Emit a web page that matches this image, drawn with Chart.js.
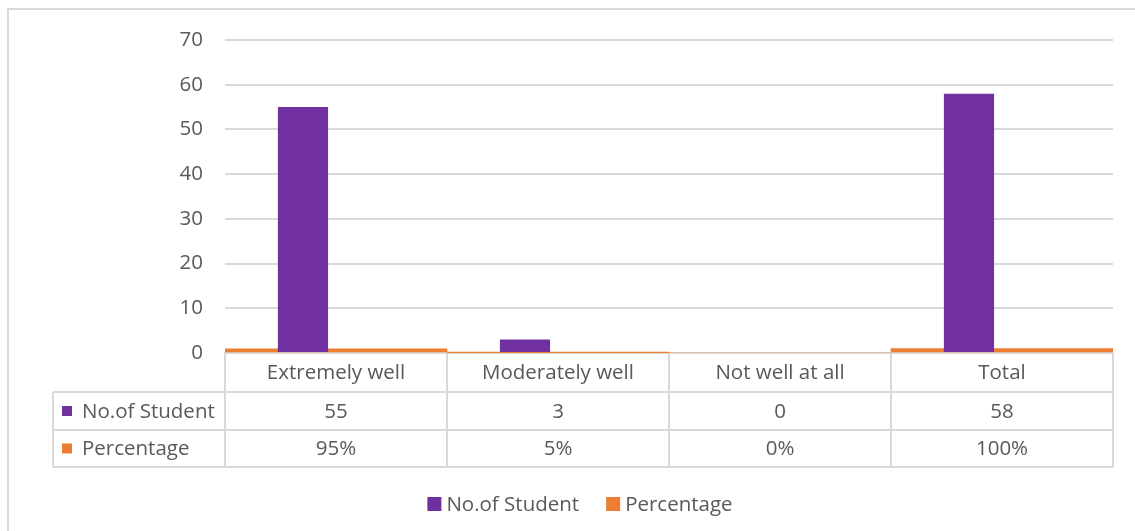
<!DOCTYPE html>
<html>
<head>
<meta charset="utf-8">
<script src="https://cdn.jsdelivr.net/npm/chart.js@4.4.0/dist/chart.umd.min.js"></script>
<style>
    html, body { margin: 0; padding: 0; background: #fff; }
    #wrap { position: relative; width: 1135px; height: 531px; overflow: hidden; }
    #frame { position: absolute; left: 7px; top: 8px; width: 1140px; height: 540px; border: 2px solid #d9d9d9; box-sizing: border-box; }
    canvas { position: absolute; left: 0; top: 0; }
</style>
</head>
<body>
<div id="wrap">
    <div id="frame"></div>
    <canvas id="report-bar-chart" width="1135" height="531"></canvas>
</div>
<script>
// Chart data
const categories = ['Extremely well', 'Moderately well', 'Not well at all', 'Total'];
const studentCounts = [55, 3, 0, 58];
const percentages = [0.95, 0.05, 0, 1];
const yTicks = [0, 10, 20, 30, 40, 50, 60, 70];

const purple = '#7030A0';
const orange = '#ED7D31';
const textColor = '#595959';
const lineColor = '#d9d9d9';
const fontFamily = '"Open Sans", sans-serif';
const fontSize = 20.5;

document.addEventListener('DOMContentLoaded', function() {
    initializeChart();
});

function formatPercent(v) {
    return Math.round(v * 100) + '%';
}

// Excel-style data table under the plot area, plus the legend below it
const dataTablePlugin = {
    id: 'dataTable',
    afterDraw(chart) {
        const ctx = chart.ctx;
        const x = chart.scales.x;
        const area = chart.chartArea;
        const step = x.getPixelForValue(1) - x.getPixelForValue(0);
        const left = area.left;
        const right = area.right;
        const labelLeft = 53;
        const rowTop = [area.bottom, 392, 430];
        const rowBottom = [392, 430, 467];

        ctx.save();
        ctx.strokeStyle = lineColor;
        ctx.lineWidth = 2;

        // horizontal lines
        [392, 430, 467].forEach(y => {
            ctx.beginPath();
            ctx.moveTo(labelLeft, y);
            ctx.lineTo(right, y);
            ctx.stroke();
        });
        // vertical lines at category boundaries
        for (let i = 0; i <= categories.length; i++) {
            const px = left + i * step;
            ctx.beginPath();
            ctx.moveTo(px, area.bottom);
            ctx.lineTo(px, 467);
            ctx.stroke();
        }
        ctx.beginPath();
        ctx.moveTo(labelLeft, 392);
        ctx.lineTo(labelLeft, 467);
        ctx.stroke();

        ctx.font = fontSize + 'px ' + fontFamily;
        ctx.fillStyle = textColor;
        ctx.textBaseline = 'middle';
        ctx.textAlign = 'center';

        const rows = [
            categories,
            studentCounts.map(String),
            percentages.map(formatPercent)
        ];
        rows.forEach((row, r) => {
            const cy = (rowTop[r] + rowBottom[r]) / 2 + 1;
            row.forEach((text, i) => {
                ctx.fillText(text, x.getPixelForValue(i), cy);
            });
        });

        // series keys in the table
        const series = chart.data.datasets.filter(d => d.label);
        ctx.textAlign = 'left';
        series.forEach((ds, k) => {
            const cy = (rowTop[k + 1] + rowBottom[k + 1]) / 2;
            ctx.fillStyle = ds.backgroundColor;
            ctx.fillRect(62, cy - 5, 10, 10);
            ctx.fillStyle = textColor;
            ctx.fillText(ds.label, 82, cy + 1);
        });

        // legend
        const box = 14, boxGap = 5, itemGap = 27, legendY = 504, legendCenter = 580;
        const widths = series.map(ds => box + boxGap + ctx.measureText(ds.label).width);
        const total = widths.reduce((a, b) => a + b, 0) + itemGap * (series.length - 1);
        let lx = legendCenter - total / 2;
        series.forEach((ds, k) => {
            ctx.fillStyle = ds.backgroundColor;
            ctx.fillRect(lx, legendY - box / 2, box, box);
            ctx.fillStyle = textColor;
            ctx.fillText(ds.label, lx + box + boxGap, legendY + 1);
            lx += widths[k] + itemGap;
        });
        ctx.restore();
    }
};

function initializeChart() {
    const canvas = document.getElementById('report-bar-chart');
    new Chart(canvas, {
        type: 'bar',
        data: {
            labels: categories,
            datasets: [{
                label: 'No.of Student',
                data: studentCounts,
                backgroundColor: purple,
                categoryPercentage: 0.595,
                barPercentage: 0.76
            }, {
                // empty slot so the purple bar sits left of centre, as in Excel
                label: '',
                data: [],
                backgroundColor: 'transparent',
                categoryPercentage: 0.595,
                barPercentage: 0.76
            }, {
                label: 'Percentage',
                data: percentages,
                backgroundColor: orange,
                grouped: false,
                categoryPercentage: 1,
                barPercentage: 1
            }]
        },
        options: {
            responsive: false,
            animation: false,
            layout: {
                padding: { left: 0, right: 22, top: 40, bottom: 0 }
            },
            plugins: {
                legend: { display: false },
                tooltip: { enabled: false }
            },
            scales: {
                x: {
                    grid: { display: false, drawTicks: false },
                    border: { color: lineColor, width: 2 },
                    ticks: { display: false },
                    afterFit: scale => { scale.height = 178; }
                },
                y: {
                    min: 0,
                    max: 70,
                    afterBuildTicks: scale => {
                        scale.ticks = yTicks.map(v => ({ value: v }));
                    },
                    afterFit: scale => { scale.width = 225; },
                    grid: { color: lineColor, lineWidth: 2, drawTicks: false },
                    border: { display: false },
                    ticks: {
                        color: textColor,
                        padding: 22,
                        font: { family: fontFamily, size: fontSize }
                    }
                }
            }
        },
        plugins: [dataTablePlugin]
    });
}
</script>
</body>
</html>
